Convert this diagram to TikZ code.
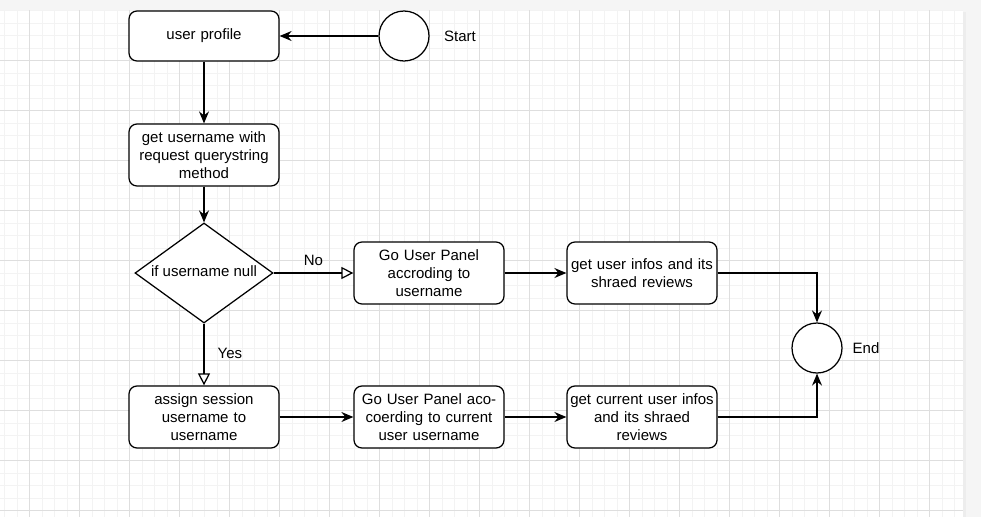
\documentclass[tikz,border=0pt]{standalone}
\usepackage{fontspec}
\setmainfont{Liberation Sans}
\usetikzlibrary{arrows.meta,shapes.geometric}
\definecolor{pagebg}{HTML}{F5F5F5}
\definecolor{minorgrid}{HTML}{F3F3F3}
\definecolor{majorgrid}{HTML}{DEDEDE}
\tikzset{
  every node/.style={font=\fontsize{15}{18}\selectfont, text=black},
  procbox/.style={draw=black, line width=1.25pt, fill=white, rounded corners=8pt,
    minimum width=150pt, inner sep=0pt, align=center, text width=146pt},
  endpoint/.style={draw=black, line width=1.25pt, fill=white, circle, minimum size=50pt, inner sep=0pt},
  decision/.style={draw=black, line width=1.25pt, fill=white, diamond, aspect=1.38,
    minimum width=138pt, minimum height=100pt, inner sep=0pt},
  flow/.style={draw=black, line width=1.25pt, -{Stealth[length=12pt,width=10pt,inset=4pt]}},
  openflow/.style={draw=black, line width=1.25pt, -{Triangle[open,length=12pt,width=12pt,fill=white]}},
  plain/.style={inner sep=0pt}
}
\begin{document}
\begin{tikzpicture}[x=1pt,y=-1pt]
\useasboundingbox (0,0) rectangle (981,517);
% page background
\fill[pagebg] (0,0) rectangle (981,517);
\fill[white] (0,10) rectangle (963,517);
\fill[black!7] (963,12) rectangle (966,517);
% grid
\begin{scope}
\clip (0,10) rectangle (963,517);
\foreach \i in {0,...,80} {
  \draw[minorgrid, line width=1pt] ({4.5+12.5*\i},10) -- ({4.5+12.5*\i},517);
}
\foreach \j in {0,...,42} {
  \draw[minorgrid, line width=1pt] (0,{10.5+12.5*\j}) -- (963,{10.5+12.5*\j});
}
\foreach \i in {0,...,19} {
  \draw[majorgrid, line width=1pt] ({29.5+50*\i},10) -- ({29.5+50*\i},517);
}
\foreach \j in {1,...,10} {
  \draw[majorgrid, line width=1pt] (0,{10.5+50*\j}) -- (963,{10.5+50*\j});
}
\end{scope}

% nodes
\node[procbox, minimum height=50pt] (prof) at (204,36) {user profile};
\node[endpoint] (start) at (404,36) {};
\node[plain] (starttxt) at (460,36) {Start};
\node[procbox, minimum height=62pt] (getuser) at (204,155) {get username with\\request querystring\\method};
\node[decision] (dec) at (204,273) {};
\node[plain] (dectxt) at (204,271) {if username null};
\node[procbox, minimum height=62pt] (panel1) at (429,273) {Go User Panel\\accroding to\\username};
\node[procbox, minimum height=62pt] (info1) at (642,273) {get user infos and its\\shraed reviews};
\node[endpoint] (end) at (817,348) {};
\node[plain] (endtxt) at (866,348) {End};
\node[procbox, minimum height=62pt] (assign) at (204,417) {assign session\\username to\\username};
\node[procbox, minimum height=62pt] (panel2) at (429,417) {Go User Panel aco-\\coerding to current\\user username};
\node[procbox, minimum height=62pt] (info2) at (642,417) {get current user infos\\and its shraed\\reviews};

% edges
\draw[flow] (start.west) -- (prof.east);
\draw[flow] (prof.south) -- (getuser.north);
\draw[flow] (getuser.south) -- (dec.north);
\draw[openflow] (dec.east) -- node[plain, above=7pt, pos=0.5] (nolbl) {No} (panel1.west);
\draw[openflow] (dec.south) -- node[plain, right=13pt, pos=0.48] (yeslbl) {Yes} (assign.north);
\draw[flow] (panel1.east) -- (info1.west);
\draw[flow] (info1.east) -| (end.north);
\draw[flow] (assign.east) -- (panel2.west);
\draw[flow] (panel2.east) -- (info2.west);
\draw[flow] (info2.east) -| (end.south);
\end{tikzpicture}
\end{document}
